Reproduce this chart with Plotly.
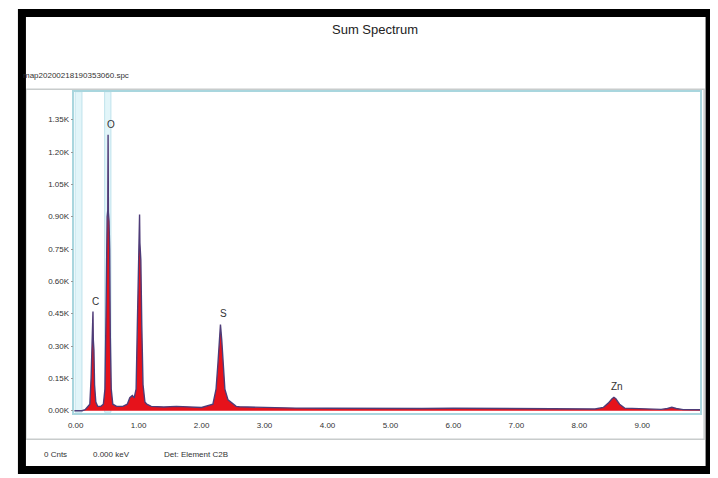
import plotly.graph_objects as go

# browser body margin is 8px, so the figure is drawn 8px in from the top-left corner
OFF = 8
W, H = 710, 470

# ---- data (keV, counts in thousands) ----
energy_kev = [
    -0.04, 0.10, 0.15, 0.20, 0.225, 0.245, 0.255, 0.265, 0.275, 0.28, 0.29, 0.30, 0.32, 0.35,
    0.40, 0.44, 0.465, 0.48, 0.49, 0.50, 0.51, 0.515, 0.52, 0.53, 0.54, 0.55, 0.565, 0.59,
    0.65, 0.75, 0.82, 0.86, 0.90, 0.93, 0.96, 0.98, 0.995, 1.005, 1.015, 1.02, 1.035, 1.05,
    1.07, 1.10, 1.13, 1.20, 1.40, 1.60, 1.75, 2.00, 2.18, 2.23, 2.26, 2.28, 2.30, 2.32,
    2.34, 2.37, 2.42, 2.48, 2.55, 2.60, 3.00, 3.50, 4.00, 4.50, 5.00, 5.50, 6.00, 6.50,
    7.00, 7.50, 8.00, 8.25, 8.38, 8.46, 8.52, 8.55, 8.58, 8.64, 8.72, 9.00, 9.30, 9.40,
    9.47, 9.54, 9.65, 9.92,
]
counts_k = [
    0.0, 0.0, 0.005, 0.02, 0.03, 0.15, 0.30, 0.34, 0.46, 0.33, 0.28, 0.12, 0.04, 0.02,
    0.02, 0.03, 0.10, 0.40, 0.80, 0.90, 0.93, 1.28, 0.92, 0.88, 0.75, 0.35, 0.10, 0.03,
    0.02, 0.02, 0.03, 0.06, 0.07, 0.06, 0.10, 0.40, 0.70, 0.78, 0.91, 0.78, 0.70, 0.40,
    0.12, 0.04, 0.03, 0.02, 0.017, 0.02, 0.017, 0.015, 0.03, 0.10, 0.22, 0.33, 0.40, 0.33,
    0.22, 0.10, 0.05, 0.035, 0.02, 0.018, 0.014, 0.012, 0.011, 0.010, 0.010, 0.010, 0.011, 0.010,
    0.010, 0.009, 0.008, 0.008, 0.015, 0.035, 0.055, 0.062, 0.055, 0.03, 0.012, 0.008, 0.006, 0.010,
    0.016, 0.010, 0.005, 0.004,
]

element_labels = ["C", "O", "S", "Zn"]
element_kev = [0.28, 0.53, 2.31, 8.57]
element_peak_k = [0.46, 1.28, 0.40, 0.062]

x_tick_vals = [0, 1, 2, 3, 4, 5, 6, 7, 8, 9]
x_tick_text = ["0.00", "1.00", "2.00", "3.00", "4.00", "5.00", "6.00", "7.00", "8.00", "9.00"]
y_tick_vals = [0, 0.15, 0.30, 0.45, 0.60, 0.75, 0.90, 1.05, 1.20, 1.35]
y_tick_text = ["0.00K", "0.15K", "0.30K", "0.45K", "0.60K", "0.75K", "0.90K", "1.05K", "1.20K", "1.35K"]

marker_bands_kev = [(-0.01, 0.10), (0.46, 0.56)]

title_text = "Sum Spectrum"
file_text = "map20200218190353060.spc"
status_texts = ["0 Cnts", "0.000 keV", "Det: Element C2B"]


def px(x):
    return (x - OFF) / W


def py(y):
    return 1 - (y - OFF) / H


fig = go.Figure()
fig.add_trace(go.Scatter(
    x=energy_kev, y=counts_k, mode="lines", fill="tozeroy",
    fillcolor="#e6121b", line=dict(color="#4e3c78", width=1.4),
    hoverinfo="skip", showlegend=False,
))

shapes = []
# black outer frame
shapes.append(dict(type="rect", xref="paper", yref="paper",
                   x0=px(15), x1=px(709.5), y0=py(472), y1=py(13),
                   line=dict(color="black", width=8), fillcolor="rgba(0,0,0,0)", layer="above"))
# grey panel border
shapes.append(dict(type="rect", xref="paper", yref="paper",
                   x0=px(19), x1=px(704), y0=py(441), y1=py(89.5),
                   line=dict(color="#c8cccc", width=1.5), fillcolor="rgba(0,0,0,0)", layer="below"))
# light marker bands
for a, b in marker_bands_kev:
    shapes.append(dict(type="rect", xref="x", yref="paper", x0=a, x1=b,
                       y0=py(414), y1=py(92), fillcolor="#e2f5f9",
                       line=dict(color="#bfe3ec", width=1), layer="below"))

annotations = [
    dict(text=title_text, x=px(372), y=py(30), xref="paper", yref="paper",
         showarrow=False, font=dict(size=13, color="#222"), xanchor="center", yanchor="middle"),
    dict(text=file_text, x=px(14), y=py(76), xref="paper", yref="paper",
         showarrow=False, font=dict(size=8, color="#333"), xanchor="left", yanchor="middle"),
]
for t, xp in zip(status_texts, [35, 85, 156]):
    annotations.append(dict(text=t, x=px(xp), y=py(456), xref="paper", yref="paper",
                            showarrow=False, font=dict(size=8, color="#333"),
                            xanchor="left", yanchor="middle"))
for lab, ek, pk in zip(element_labels, element_kev, element_peak_k):
    annotations.append(dict(text=lab, x=ek, y=pk, xref="x", yref="y", showarrow=False,
                            font=dict(size=10, color="#333"), xanchor="center",
                            yanchor="bottom", xshift=2, yshift=3))

fig.update_layout(
    width=W, height=H,
    margin=dict(l=0, r=0, t=0, b=0),
    paper_bgcolor="white", plot_bgcolor="white",
    font=dict(family="Liberation Sans, Arial, sans-serif", color="#333"),
    shapes=shapes, annotations=annotations,
    xaxis=dict(domain=[px(68), px(700)], range=[-0.02, 9.92],
               tickvals=x_tick_vals, ticktext=x_tick_text, tickfont=dict(size=8),
               showgrid=False, zeroline=False, showline=True, mirror=True,
               linecolor="#a9d6de", linewidth=1.5, ticks="", ticklen=0,
               ticklabelstandoff=3),
    yaxis=dict(domain=[py(415), py(92)], range=[-0.012, 1.48],
               tickvals=y_tick_vals, ticktext=y_tick_text, tickfont=dict(size=8),
               showgrid=False, zeroline=False, showline=True, mirror=True,
               linecolor="#a9d6de", linewidth=1.5, ticks="outside", ticklen=2,
               tickcolor="#999"),
)

fig.write_html("out.html")
